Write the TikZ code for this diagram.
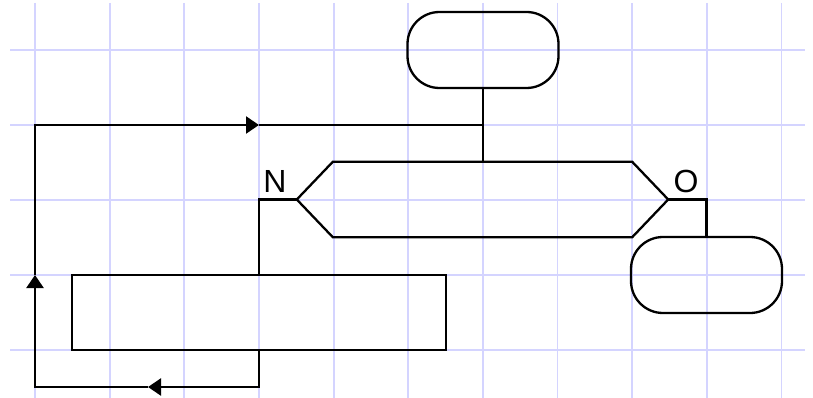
\documentclass[tikz,border=0pt]{standalone}
\usepackage{fontspec}
\setmainfont{Liberation Sans}
\usetikzlibrary{arrows.meta,shapes.misc}
\definecolor{gridc}{RGB}{212,212,255}
\tikzset{
  flow/.style={draw=black,line width=2.3pt},
  term/.style={draw=black,line width=2.3pt,rectangle,rounded corners=32pt,minimum width=151pt,minimum height=76pt,inner sep=0pt},
  procbox/.style={draw=black,line width=2.3pt,rectangle,minimum width=374pt,minimum height=75pt,inner sep=0pt},
  decbox/.style={rectangle,minimum width=371pt,minimum height=75pt,inner sep=0pt},
  tip/.style={-{Triangle[length=13pt,width=17pt]}},
  lab/.style={font=\fontsize{32}{36}\selectfont,inner sep=0pt,anchor=base}
}
\begin{document}
\begin{tikzpicture}[x=1pt,y=-1pt]
\useasboundingbox (0,0) rectangle (813,398);
% grid
\foreach \k in {0,...,10}{
  \draw[gridc,line width=1.8pt] ({35+74.65*\k},3) -- ({35+74.65*\k},398);
}
\foreach \y in {50,125,200,275,350}{
  \draw[gridc,line width=1.8pt] (10,\y) -- (805,\y);
}
% nodes
\node[term] (start) at (483,50) {};
\node[decbox] (dec) at (482.5,199.5) {};
\draw[flow,line join=miter] (dec.west) -- ([xshift=36pt]dec.north west) -- ([xshift=-36pt]dec.north east) -- (dec.east) -- ([xshift=-36pt]dec.south east) -- ([xshift=36pt]dec.south west) -- cycle;
\node[procbox] (proc) at (259,312.5) {};
\node[term] (stop) at (706.5,275) {};
% labels
\node[lab] (labN) at (275,193) {N};
\node[lab] (labO) at (686,193) {O};
% coordinates
\coordinate (J) at (483,125);
\coordinate (TL) at (35,125);
\coordinate (BL) at (35,387);
\coordinate (BR) at (259,387);
\coordinate (aB) at (148,387);
\coordinate (aL) at (35,275);
\coordinate (aT) at (259,125);
% connectors
\draw[flow] (start.south) -- (start.south |- dec.north);
\draw[flow] (dec.west) -| (proc.north);
\draw[flow] (dec.east) -| (stop.north);
\draw[flow,tip] (proc.south) -- (BR) -- (aB);
\draw[flow,tip] (aB) -- (BL) -- (aL);
\draw[flow,tip] (aL) -- (TL) -- (aT);
\draw[flow] (aT) -- (J);
\end{tikzpicture}
\end{document}
